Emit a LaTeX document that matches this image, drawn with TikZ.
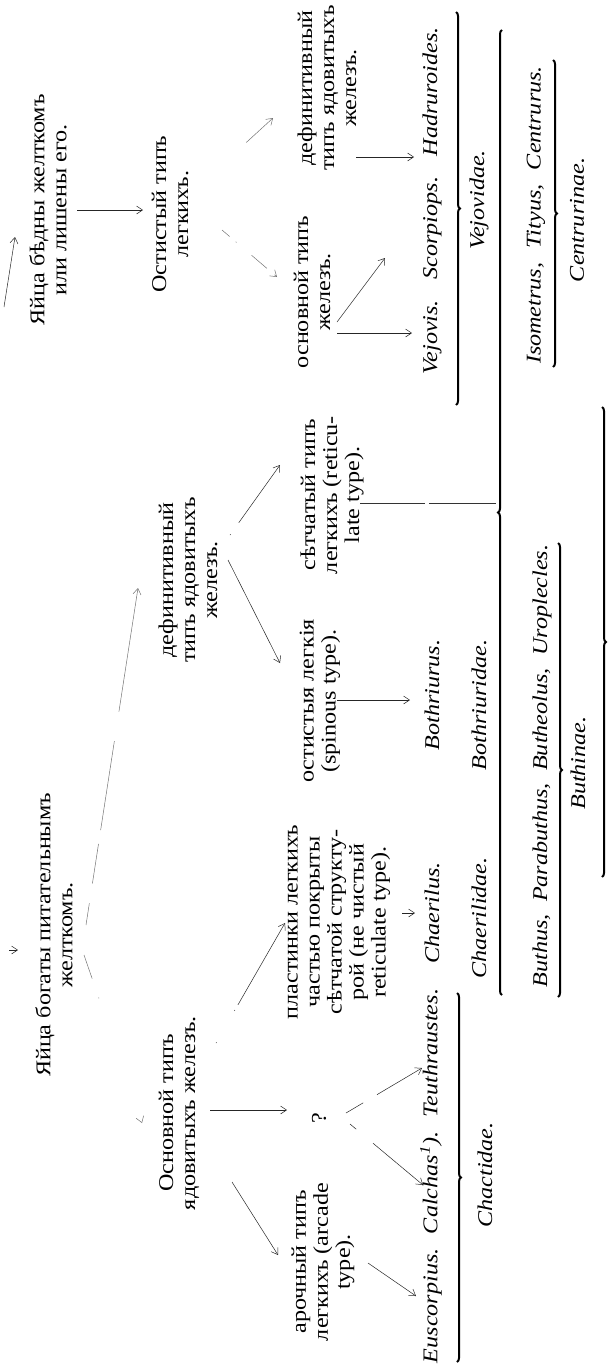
\documentclass[tikz,border=0pt]{standalone}
\usepackage{fontspec}
\setmainfont{Liberation Serif}[FakeStretch=1.15]
\usetikzlibrary{arrows.meta,decorations.pathreplacing}
\begin{document}
\begin{tikzpicture}[x=1pt,y=-1pt,
  lbl/.style={rotate=90, align=center, inner sep=0pt, font=\fontsize{21}{22}\selectfont},
  gen/.style={rotate=90, inner sep=0pt, font=\fontsize{21}{22}\selectfont\itshape},
  arr/.style={-{Straight Barb[length=6pt,width=8pt]}, line width=0.5pt, black!85},
  faint/.style={arr, black!55, dash pattern=on 10pt off 9pt},
  br/.style={decorate, decoration={brace, amplitude=4pt}, line width=2pt}]
\useasboundingbox (0,0) rectangle (612,1365);

% upper half
\node[lbl] (t1) at (48,210) {Яйца бѣдны желткомъ\\или лишены его.};
\node[lbl] (t2) at (170,214) {Остистый типъ\\легкихъ.};
\node[lbl] (t3) at (312,292) {основной типъ\\железъ.};
\node[lbl] (t4) at (327,88) {дефинитивный\\типъ ядовитыхъ\\железъ.};
\node[gen] (vej) at (432,201) {Vejovis.\hspace{0.6em} Scorpiops.\hspace{0.6em} Hadruroides.};
\node[gen] (vejf) at (479,200) {Vejovidae.};
\node[gen] (iso) at (536,215) {Isometrus,\hspace{0.4em} Tityus,\hspace{0.4em} Centrurus.};
\node[gen] (cen) at (577,220) {Centrurinae.};
\node[lbl] (d) at (188,580) {дефинитивный\\типъ ядовитыхъ\\железъ.};
\node[lbl] (r) at (332,495) {сѣтчатый типъ\\легкихъ (reticu-\\late type).};
\node[lbl] (s) at (320,701) {остистыя легкія\\(spinous type).};
\node[gen] (both) at (432,695) {Bothriurus.};
\node[gen] (bothf) at (479,705) {Bothriuridae.};
\node[gen] (buth) at (542,766) {Buthus,\hspace{0.3em} Parabuthus,\hspace{0.3em} Butheolus,\hspace{0.3em} Uroplecles.};
\node[gen] (buthf) at (578,763) {Buthinae.};

% lower half
\node[lbl] (b1) at (54,935) {Яйца богаты питательнымъ\\желткомъ.};
\node[lbl] (b2) at (179,1113) {Основной типъ\\ядовитыхъ железъ.};
\node[lbl] (p) at (339,922) {пластинки легкихъ\\частью покрыты\\сѣтчатой структу-\\рой (не чистый\\reticulate type).};
\node[lbl] (q) at (319,1118) {?};
\node[lbl] (a) at (323,1262) {арочный типъ\\легкихъ (arcade\\type).};
\node[gen] (chae) at (432,913) {Chaerilus.};
\node[gen] (chaef) at (479,918) {Chaerilidae.};
\node[gen] (eus) at (431,1176) {Euscorpius.\hspace{0.3em} Calchas\textsuperscript{1}).\hspace{0.3em} Teuthraustes.};
\node[gen] (chaf) at (485,1175) {Chactidae.};

% connector end points
\coordinate (r0) at (4,307);   \coordinate (t1in) at (15,237);
\coordinate (r1) at (9,950);   \coordinate (b1in) at (18,950);
\coordinate (t1o) at (77,210); \coordinate (t2in) at (143,210);
\coordinate (t2a) at (202,183); \coordinate (t4in) at (273,118);
\coordinate (t2b) at (222,230); \coordinate (t3in) at (277,277);
\coordinate (t4o) at (356,157); \coordinate (hadin) at (414,157);
\coordinate (t3a) at (337,322); \coordinate (scoin) at (385,258);
\coordinate (t3b) at (337,333); \coordinate (vejin) at (412,333);
\coordinate (b1a) at (86,925);  \coordinate (din) at (138,588);
\coordinate (b1b) at (84,955);  \coordinate (b2in) at (142,1123);
\coordinate (da) at (230,535);  \coordinate (rin) at (280,465);
\coordinate (db) at (228,560);  \coordinate (sin) at (280,663);
\coordinate (ro) at (360,503);  \coordinate (bra) at (496,503);
\coordinate (so) at (337,700);  \coordinate (bothin) at (410,700);
\coordinate (b2a) at (232,1182); \coordinate (ain) at (278,1255);
\coordinate (b2b) at (210,1110); \coordinate (qin) at (287,1110);
\coordinate (b2c) at (216,1043); \coordinate (pin) at (285,923);
\coordinate (qa) at (346,1113); \coordinate (teuin) at (422,1068);
\coordinate (qb) at (350,1124); \coordinate (calin) at (423,1185);
\coordinate (ao) at (368,1263); \coordinate (eusin) at (416,1296);
\coordinate (po) at (402,913);  \coordinate (chaein) at (415,913);

% connectors
\draw[arr] (r0) -- (t1in);
\draw[arr] (r1) -- (b1in);
\draw[arr] (t1o) -- (t2in);
\draw[faint, dash pattern=on 0pt off 60pt on 20pt] (t2a) -- (t4in);
\draw[faint, dash pattern=on 10pt off 8pt on 1pt off 20pt on 20pt] (t2b) -- (t3in);
\draw[arr] (t4o) -- (hadin);
\draw[arr] (t3a) -- (scoin);
\draw[arr] (t3b) -- (vejin);
\draw[faint, dash pattern=on 22pt off 20pt on 40pt off 14pt on 90pt off 30pt on 200pt] (b1a) -- (din);
\draw[faint, dash pattern=on 25pt off 20pt on 1pt off 200pt] (b1b) -- (b2in);
\draw[arr, dash pattern=on 1pt off 14pt on 200pt] (da) -- (rin);
\draw[arr] (db) -- (sin);
\draw[black!80, line width=0.5pt, dash pattern=on 65pt off 4pt on 80pt] (ro) -- (bra);
\draw[arr] (so) -- (bothin);
\draw[arr] (b2a) -- (ain);
\draw[arr] (b2b) -- (qin);
\draw[arr, dash pattern=on 1pt off 36pt on 1pt off 6pt on 200pt] (b2c) -- (pin);
\draw[arr, dash pattern=on 20pt off 16pt on 200pt] (qa) -- (teuin);
\draw[arr, dash pattern=on 8pt off 22pt on 200pt] (qb) -- (calin);
\draw[arr] (ao) -- (eusin);
\draw[arr] (po) -- (chaein);

% braces
\draw[br] (456,12) -- (456,405);
\draw[br] (553,60) -- (553,367);
\draw[br] (502,995) -- (502,30);
\draw[br] (558,543) -- (558,997);
\draw[br] (602,407) -- (602,877);
\draw[br] (457,993) -- (457,1362);
\end{tikzpicture}
\end{document}
